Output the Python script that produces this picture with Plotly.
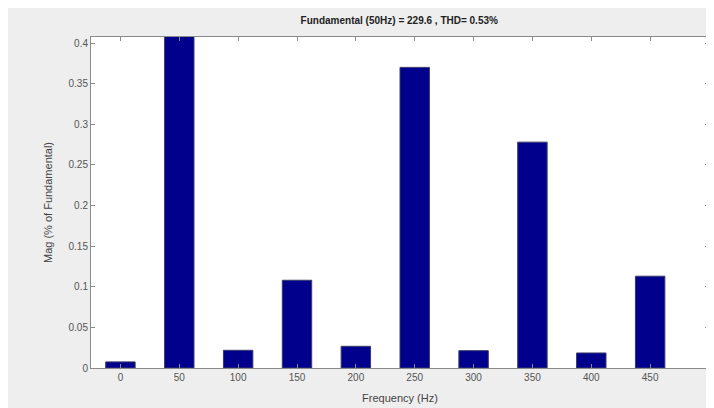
import plotly.graph_objects as go

freqs = [0, 50, 100, 150, 200, 250, 300, 350, 400, 450]
mags = [0.0075, 100.0, 0.0218, 0.108, 0.0267, 0.370, 0.0213, 0.278, 0.0185, 0.113]
ytick_vals = [0, 0.05, 0.1, 0.15, 0.2, 0.25, 0.3, 0.35, 0.4]
ytick_text = ["0", "0.05", "0.1", "0.15", "0.2", "0.25", "0.3", "0.35", "0.4"]
title_text = "Fundamental (50Hz) = 229.6 , THD= 0.53%"

fig = go.Figure(go.Bar(
    x=freqs, y=mags, width=25,
    marker=dict(color="#00008c", line=dict(color="#3a3a6a", width=1)),
))

axis_common = dict(
    showline=True, linecolor="#8a8a8a", linewidth=1, mirror="allticks",
    ticks="inside", ticklen=4, tickcolor="#8a8a8a", showgrid=False, zeroline=False,
    tickfont=dict(family="Liberation Sans, Arial, sans-serif", size=10, color="#555555"),
)

fig.update_layout(
    width=714, height=408,
    margin=dict(l=83, r=13, t=29, b=48),
    paper_bgcolor="#eeeeee", plot_bgcolor="#ffffff",
    showlegend=False,
    title=dict(text="<b>" + title_text + "</b>", x=0.548, xanchor="center", y=0.978, yanchor="top",
               font=dict(family="Liberation Sans Narrow, Liberation Sans, Arial, sans-serif", size=10, color="#222222")),
    xaxis=dict(range=[-25, 500], tickvals=freqs, ticktext=[str(f) for f in freqs],
               title=dict(text="Frequency (Hz)", standoff=12,
                          font=dict(family="Liberation Sans, Arial, sans-serif", size=11, color="#444444")),
               **axis_common),
    yaxis=dict(range=[0, 0.4074], tickvals=ytick_vals, ticktext=ytick_text,
               title=dict(text="Mag (% of Fundamental)", standoff=13,
                          font=dict(family="Liberation Sans, Arial, sans-serif", size=11, color="#444444")),
               **axis_common),
)

fig.write_html("out.html")
